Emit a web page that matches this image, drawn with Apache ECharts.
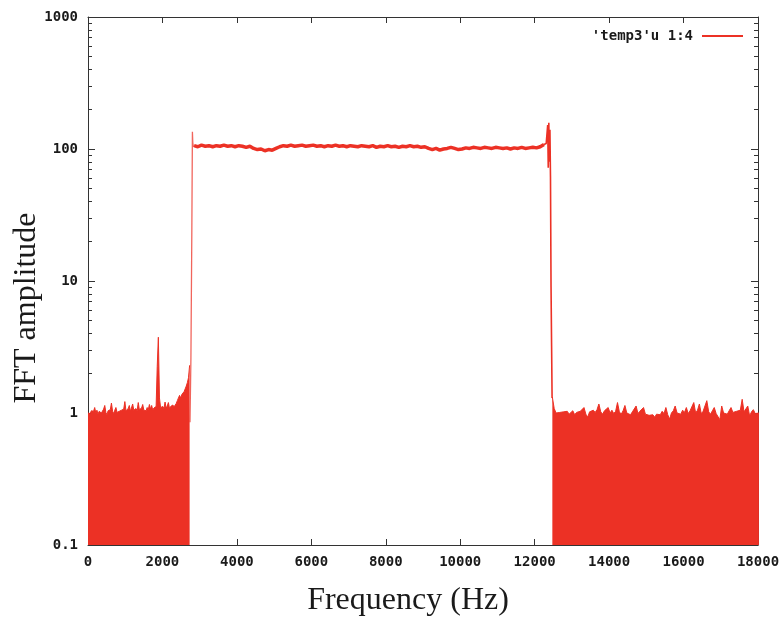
<!DOCTYPE html>
<html><head><meta charset="utf-8">
<script src="https://cdn.jsdelivr.net/npm/echarts@6/dist/echarts.min.js"></script>
<style>html,body{margin:0;padding:0;background:#fff}#c{width:784px;height:617px}</style>
</head><body><div id="c"></div>
<script>
// ---------- data ----------
const seriesName = "'temp3'u 1:4";
const xTitle = 'Frequency (Hz)';
const yTitle = 'FFT amplitude';
const xTickStep = 2000;
const xMin = 0, xMax = 18000;
const yMin = 0.1, yMax = 1000;
const yMinorTicks = [0.2,0.3,0.4,0.5,0.6,0.7,0.8,0.9,2,3,4,5,6,7,8,9,20,30,40,50,60,70,80,90,200,300,400,500,600,700,800,900];

// low-frequency noise floor (sampled every 30 Hz from 0 Hz)
const leftStart = 0, leftStep = 30;
const leftAmp = [
 1.00,1.02,0.99,1.04,1.01,1.03,1.10,1.00,1.05,0.98,
 1.03,1.06,1.00,1.02,1.07,1.14,1.01,0.97,1.04,1.02,
 1.06,1.19,1.03,0.99,1.05,1.10,1.01,0.98,1.03,1.00,
 1.05,1.02,1.07,1.22,1.04,1.01,1.08,1.14,1.03,1.06,
 1.17,1.05,1.02,1.08,1.04,1.20,1.06,1.03,1.09,1.16,
 1.05,1.08,1.04,1.10,1.06,1.16,1.07,1.14,1.05,1.09,
 1.06,1.12,2.25,3.75,1.30,1.10,1.07,1.12,1.08,1.21,
 1.09,1.13,1.20,1.08,1.12,1.10,1.15,1.11,1.14,1.18,
 1.24,1.30,1.36,1.30,1.38,1.42,1.45,1.52,1.60,1.70,
 1.85,2.30];

// rising edge
const riseFreq = [2740, 2765, 2790, 2805, 2815, 2830];
const riseAmp  = [0.85, 2.6, 25, 135, 112, 104];

// pass band (every 100 Hz from 2850 Hz)
const bandStart = 2850, bandStep = 100;
const bandAmp = [
 106,104,107,105,106,104,106,105,107,105,
 106,104,106,105,103,105,101,99,100,97,
 99,98,101,104,106,105,107,105,106,107,
 105,106,107,105,106,104,106,105,107,105,
 106,104,106,105,104,106,105,104,106,103,
 105,104,106,104,105,103,105,104,106,104,
 105,103,104,101,99,101,98,100,101,103,
 101,99,100,102,101,103,102,101,103,102,
 101,103,102,101,102,100,102,101,103,101,
 102,103,102,104,108];

// falling edge
const fallFreq = [12280, 12310, 12335, 12350, 12365, 12380, 12395, 12410, 12425, 12440, 12455, 12468];
const fallAmp  = [106, 110, 112, 152, 72, 158, 80, 140, 62, 9, 3.2, 1.3];

// high-frequency noise floor (every 50 Hz from 12475 Hz)
const rightStart = 12475, rightStep = 50;
const rightAmp = [
 1.32,1.08,1.00,0.97,1.01,0.98,1.02,0.99,1.03,0.98,
 1.00,1.04,0.97,1.01,0.99,1.03,1.00,1.10,0.98,0.93,
 1.02,0.99,1.05,1.01,1.06,1.17,1.02,0.98,1.04,1.01,
 1.10,1.00,1.05,0.99,1.03,1.20,1.02,0.98,1.04,1.14,
 1.00,1.03,0.97,1.02,1.05,1.13,0.99,1.03,1.00,1.10,
 0.98,1.01,0.96,0.99,0.97,0.93,0.98,1.01,0.97,1.03,
 0.99,1.10,0.97,0.90,1.00,1.04,1.13,1.00,1.03,0.98,
 1.05,1.01,1.10,0.99,1.04,1.02,1.20,1.00,1.05,1.17,
 0.99,1.03,1.01,1.24,1.02,0.98,1.04,1.10,0.99,0.96,
 0.89,1.13,1.00,1.03,0.98,1.04,1.10,1.01,0.99,1.03,
 1.00,1.05,1.27,1.02,0.99,1.13,0.95,1.02,1.06,0.99,
 1.01,1.00];

// ---------- build ----------
const RED = '#ec3125';
const AXIS = '#333';
const monoFont = { fontFamily: 'DejaVu Sans Mono', fontWeight: 'bold', fontSize: 14, color: '#1a1a1a' };

const gridded = (start, step, arr) => arr.map((v, i) => [start + i * step, v]);
const pairs = (fs, as) => fs.map((f, i) => [f, as[i]]);

const leftData = gridded(leftStart, leftStep, leftAmp);
const bandData = gridded(bandStart, bandStep, bandAmp);
const rightData = gridded(rightStart, rightStep, rightAmp);
const riseData = pairs(riseFreq, riseAmp).concat([bandData[0]]);
const fallData = [bandData[bandData.length - 1]].concat(pairs(fallFreq, fallAmp)).concat([rightData[0]]);

const chart = echarts.init(document.getElementById('c'), null, { renderer: 'canvas' });

const logAxisBase = {
  type: 'log', logBase: 10, min: yMin, max: yMax,
  splitLine: { show: false }
};

chart.setOption({
  animation: false,
  backgroundColor: '#fff',
  grid: { left: 88, right: 26, top: 17, bottom: 72, containLabel: false, outerBoundsMode: 'none' },
  legend: {
    data: [seriesName],
    right: 36, top: 24,
    align: 'right',
    icon: 'rect', itemWidth: 41, itemHeight: 2,
    itemStyle: { color: RED },
    textStyle: Object.assign({}, monoFont, { padding: [0, 4, 0, 0] }),
    selectedMode: false
  },
  xAxis: [
    {
      type: 'value', position: 'bottom', min: xMin, max: xMax, interval: xTickStep,
      axisLine: { show: true, lineStyle: { color: AXIS, width: 1 } },
      axisTick: { show: true, inside: true, length: 6, lineStyle: { color: AXIS } },
      axisLabel: Object.assign({ margin: 10, showMaxLabel: true, showMinLabel: true,
        formatter: v => String(Math.round(v)) }, monoFont),
      splitLine: { show: false }
    },
    {
      type: 'value', position: 'top', min: xMin, max: xMax, interval: xTickStep,
      axisLine: { show: true, lineStyle: { color: AXIS, width: 1 } },
      axisTick: { show: true, inside: true, length: 6, lineStyle: { color: AXIS } },
      axisLabel: { show: false },
      splitLine: { show: false }
    }
  ],
  yAxis: [
    Object.assign({}, logAxisBase, {
      position: 'left',
      axisLine: { show: true, lineStyle: { color: AXIS, width: 1 } },
      axisTick: { show: true, inside: true, length: 7, lineStyle: { color: AXIS } },
      axisLabel: Object.assign({
        margin: 10,
        formatter: v => (v < 1 ? Number(v).toFixed(1) : String(Math.round(v)))
      }, monoFont)
    }),
    Object.assign({}, logAxisBase, {
      position: 'left',
      axisLine: { show: false },
      axisTick: { show: true, inside: true, length: 4, customValues: yMinorTicks, lineStyle: { color: AXIS } },
      axisLabel: { show: false }
    }),
    Object.assign({}, logAxisBase, {
      position: 'right',
      axisLine: { show: true, lineStyle: { color: AXIS, width: 1 } },
      axisTick: { show: true, inside: true, length: 7, lineStyle: { color: AXIS } },
      axisLabel: { show: false }
    }),
    Object.assign({}, logAxisBase, {
      position: 'right',
      axisLine: { show: false },
      axisTick: { show: true, inside: true, length: 4, customValues: yMinorTicks, lineStyle: { color: AXIS } },
      axisLabel: { show: false }
    })
  ],
  graphic: [
    { type: 'text', x: 408, y: 601, silent: true,
      style: { text: xTitle, font: '32px "Liberation Serif"', fill: '#1a1a1a', textAlign: 'center', textVerticalAlign: 'middle' } },
    { type: 'text', x: 27, y: 308, rotation: Math.PI / 2, silent: true,
      style: { text: yTitle, font: '32px "Liberation Serif"', fill: '#1a1a1a', textAlign: 'center', textVerticalAlign: 'middle' } }
  ],
  series: [
    { name: seriesName, type: 'line', data: leftData, showSymbol: false, symbol: 'none', clip: true,
      color: RED, lineStyle: { color: RED, width: 1 },
      areaStyle: { color: RED, opacity: 1, origin: 'start' } },
    { name: seriesName, type: 'line', data: riseData, showSymbol: false, symbol: 'none', clip: true,
      color: RED, lineStyle: { color: RED, width: 1.3, opacity: 0.75 } },
    { name: seriesName, type: 'line', data: bandData, showSymbol: false, symbol: 'none', clip: true,
      color: RED, lineStyle: { color: RED, width: 3.5 } },
    { name: seriesName, type: 'line', data: fallData, showSymbol: false, symbol: 'none', clip: true,
      color: RED, lineStyle: { color: RED, width: 1.6 } },
    { name: seriesName, type: 'line', data: rightData, showSymbol: false, symbol: 'none', clip: true,
      color: RED, lineStyle: { color: RED, width: 1 },
      areaStyle: { color: RED, opacity: 1, origin: 'start' } }
  ]
});
</script></body></html>
